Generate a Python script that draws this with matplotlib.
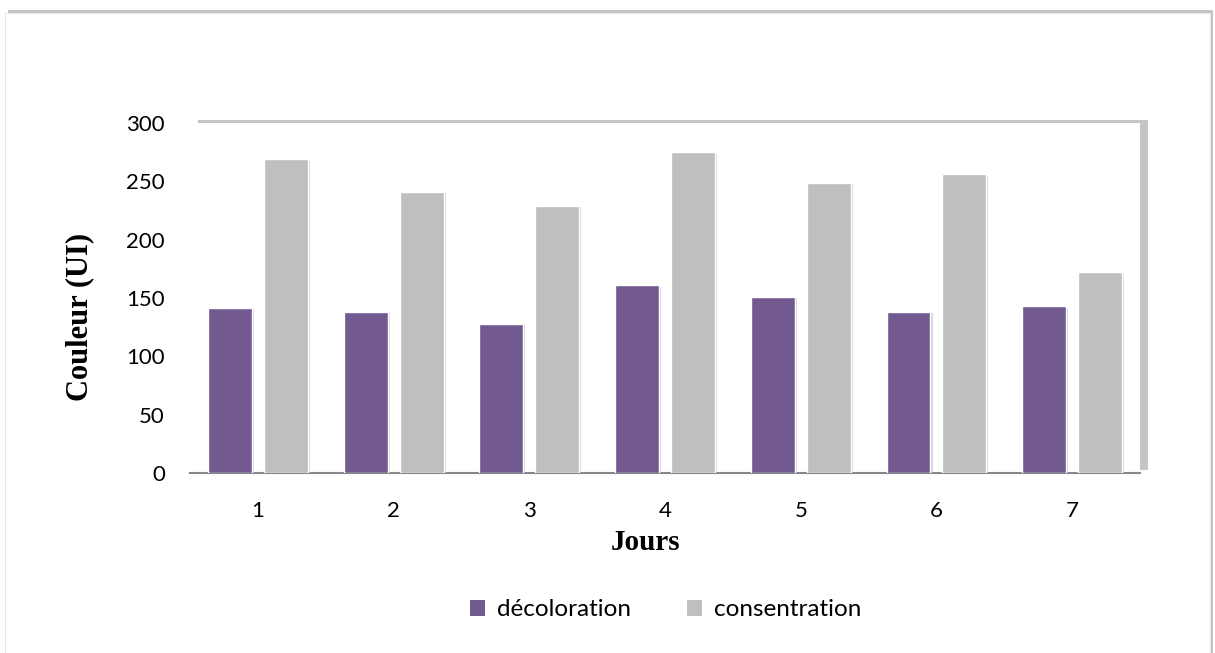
import matplotlib
matplotlib.use('Agg')
import matplotlib.pyplot as plt
import matplotlib.patheffects as pe
from matplotlib.patches import Rectangle
import numpy as np

# Données
jours = ["1", "2", "3", "4", "5", "6", "7"]
decoloration = [141, 138, 128, 161, 151, 138, 143]
consentration = [269, 241, 229, 275, 249, 256, 172]

COL_DECO = "#725990"
COL_CONS = "#BFBFBF"
TICK_FONT = "Lato"

fig = plt.figure(figsize=(12.15, 6.53), dpi=100)

# cadre extérieur avec ombre
frame = Rectangle((0.004, -0.02), 0.992, 1.0, transform=fig.transFigure,
                  facecolor="white", edgecolor="#e6e6e6", linewidth=0.8, zorder=0)
frame.set_path_effects([pe.SimplePatchShadow(offset=(2, 2), shadow_rgbFace="#888888", alpha=0.5),
                        pe.Normal()])
fig.add_artist(frame)

ax = fig.add_axes([0.1564, 0.2757, 0.7819, 0.5359])
ax.patch.set_path_effects([pe.SimplePatchShadow(offset=(6, 2), shadow_rgbFace="#8c8c8c", alpha=0.5),
                           pe.Normal()])

x = np.arange(len(jours))
offset = 0.206
width = 0.324
shadow = [pe.SimplePatchShadow(offset=(1.5, -1), shadow_rgbFace="#b0b0b0", alpha=0.5), pe.Normal()]

b1 = ax.bar(x - offset, decoloration, width=width, color=COL_DECO, edgecolor="white",
            linewidth=1.0, label="décoloration", zorder=3)
b2 = ax.bar(x + offset, consentration, width=width, color=COL_CONS, edgecolor="white",
            linewidth=1.0, label="consentration", zorder=3)
for bar in list(b1) + list(b2):
    bar.set_path_effects(shadow)

ax.set_xlim(-0.5, len(jours) - 0.5)
ax.set_ylim(0, 300)
ax.set_yticks(np.arange(0, 301, 50))
ax.set_xticks(x)
ax.set_xticklabels(jours)

for side in ["top", "right", "left"]:
    ax.spines[side].set_visible(False)
ax.spines["bottom"].set_color("#888888")
ax.spines["bottom"].set_linewidth(1.5)

ax.tick_params(axis="both", length=0, labelsize=16)
ax.tick_params(axis="x", pad=20)
ax.tick_params(axis="y", pad=18)
for lab in ax.get_xticklabels() + ax.get_yticklabels():
    lab.set_fontfamily(TICK_FONT)

ax.set_xlabel("Jours", fontfamily="Liberation Serif", fontweight="bold", fontsize=21)
ax.xaxis.set_label_coords(0.48, -0.16)
ax.set_ylabel("Couleur (UI)", fontfamily="Liberation Serif", fontweight="bold", fontsize=22)
ax.yaxis.set_label_coords(-0.101, 0.446)

leg = fig.legend(handles=[b1, b2], loc="center", bbox_to_anchor=(0.548, 0.066), ncol=2,
                 frameon=False, prop={"family": TICK_FONT, "size": 17.5},
                 handlelength=0.6, handleheight=0.6, handletextpad=0.5, columnspacing=2.3)
for h in leg.legend_handles:
    h.set_path_effects([])
    h.set_edgecolor("none")

plt.savefig("out.png", dpi=100)
plt.close()
